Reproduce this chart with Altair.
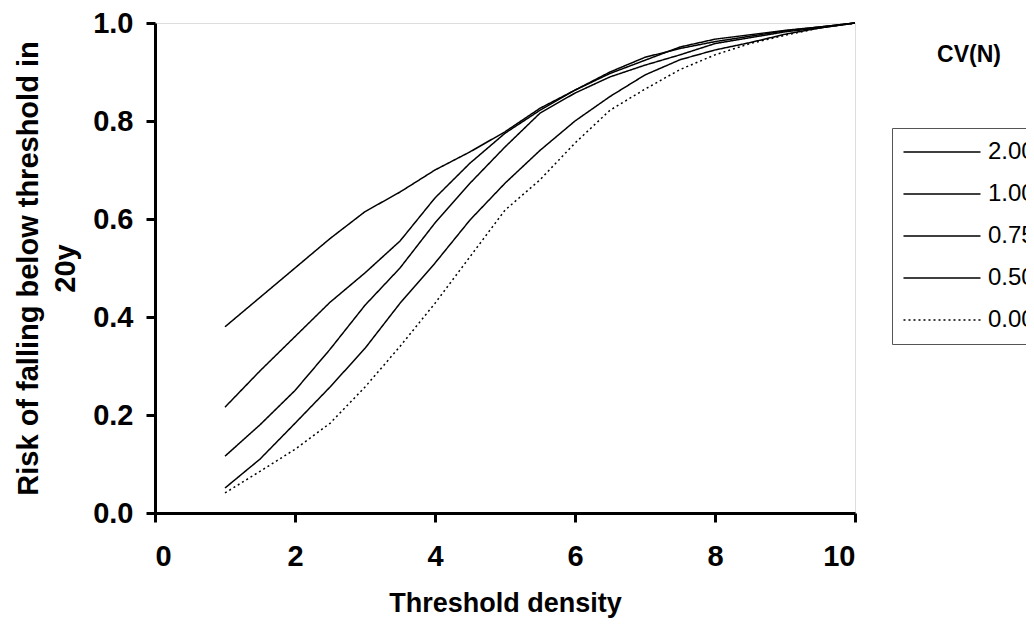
import altair as alt
import pandas as pd

threshold = [1, 1.5, 2, 2.5, 3, 3.5, 4, 4.5, 5, 5.5, 6, 6.5, 7, 7.5, 8, 8.5, 9, 9.5, 10]
cv_labels = ["2.00", "1.00", "0.75", "0.50", "0.00"]
risk_cv200 = [0.38, 0.44, 0.50, 0.56, 0.615, 0.655, 0.70, 0.737, 0.778, 0.826, 0.863, 0.897, 0.924, 0.951, 0.967, 0.976, 0.985, 0.992, 1.0]
risk_cv100 = [0.216, 0.29, 0.36, 0.43, 0.49, 0.555, 0.643, 0.714, 0.775, 0.822, 0.863, 0.90, 0.93, 0.948, 0.962, 0.973, 0.984, 0.992, 1.0]
risk_cv075 = [0.116, 0.18, 0.25, 0.334, 0.424, 0.50, 0.592, 0.673, 0.747, 0.816, 0.857, 0.89, 0.914, 0.935, 0.958, 0.97, 0.982, 0.99, 1.0]
risk_cv050 = [0.051, 0.11, 0.183, 0.257, 0.336, 0.428, 0.51, 0.598, 0.673, 0.74, 0.80, 0.85, 0.894, 0.925, 0.945, 0.96, 0.977, 0.99, 1.0]
risk_cv000 = [0.041, 0.085, 0.13, 0.183, 0.257, 0.34, 0.428, 0.523, 0.618, 0.68, 0.755, 0.822, 0.865, 0.905, 0.935, 0.958, 0.975, 0.99, 1.0]
x_ticks = [0, 2, 4, 6, 8, 10]
y_ticks = [0.0, 0.2, 0.4, 0.6, 0.8, 1.0]
legend_title = ["CV(N)"]

series = [risk_cv200, risk_cv100, risk_cv075, risk_cv050, risk_cv000]
rows = []
for lab, vals in zip(cv_labels, series):
    for t, v in zip(threshold, vals):
        rows.append({"threshold": t, "risk": v, "cv": lab})
df = pd.DataFrame(rows)

FONT = "Liberation Sans"

lines = alt.Chart(df).mark_line(color="black", strokeWidth=1.5).encode(
    x=alt.X("threshold:Q",
            scale=alt.Scale(domain=[0, 10], nice=False, zero=False),
            axis=alt.Axis(values=x_ticks, format="d", title="Threshold density",
                          grid=False, domainWidth=3, domainColor="black",
                          tickWidth=3, tickColor="black", tickSize=9,
                          labelFont=FONT, labelFontSize=29, labelFontWeight="bold",
                          labelColor="black", labelPadding=20,
                          titleFont=FONT, titleFontSize=27, titleFontWeight="bold",
                          titleColor="black", titlePadding=19)),
    y=alt.Y("risk:Q",
            scale=alt.Scale(domain=[0, 1], nice=False),
            axis=alt.Axis(values=y_ticks, format=".1f",
                          title=["Risk of falling below threshold in", "20y"],
                          grid=False, domainWidth=3, domainColor="black",
                          tickWidth=3, tickColor="black", tickSize=9,
                          labelFont=FONT, labelFontSize=29, labelFontWeight="bold",
                          labelColor="black", labelPadding=13,
                          titleFont=FONT, titleFontSize=29, titleFontWeight="bold",
                          titleColor="black", titleLineHeight=37,
                          titleAngle=-90, titleAlign="center", titleBaseline="middle",
                          titleX=-127, titleY=245)),
    strokeDash=alt.StrokeDash("cv:N",
                              scale=alt.Scale(domain=cv_labels,
                                              range=[[1, 0], [1, 0], [1, 0], [1, 0], [2, 3]]),
                              sort=None,
                              legend=alt.Legend(title=None, orient="none",
                                                legendX=737, legendY=105,
                                                symbolType="M-1.3,0H6.7", symbolSize=370.6,
                                                symbolStrokeWidth=1.5, symbolStrokeColor="black",
                                                labelFont=FONT, labelFontSize=24, labelColor="black",
                                                labelOffset=60, rowPadding=18, padding=12,
                                                strokeColor="#555555", fillColor="white")),
)

title_text = alt.Chart(pd.DataFrame({"t": legend_title})).mark_text(
    font=FONT, fontSize=23, fontWeight="bold", color="black", align="center", baseline="middle"
).encode(x=alt.value(814), y=alt.value(32), text="t:N")

chart = alt.layer(lines, title_text).properties(
    width=700, height=490,
    autosize=alt.AutoSizeParams(type="none"),
    padding={"left": 147, "top": 15, "right": 171, "bottom": 109},
).configure_view(stroke=None).configure(background="white")

chart.save("out.html", embed_options={"renderer": "svg", "actions": False})
